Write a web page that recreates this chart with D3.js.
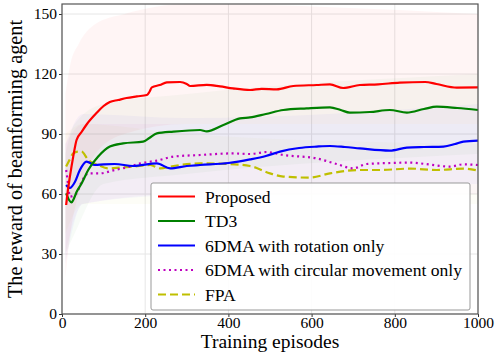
<!DOCTYPE html>
<html>
<head>
<meta charset="utf-8">
<script src="https://cdn.jsdelivr.net/npm/d3@7"></script>
<style>
body { margin: 0; background: #fff; }
svg text { font-family: "Liberation Serif", "DejaVu Serif", Times, serif !important; }
</style>
</head>
<body>
<script>
//smoothed reward curves, [episode, reward]
var proposed = [[10,54.5],[13,60],[19,68.7],[27,78.7],[35,87],[47,91],[60,95],[83,100.5],[100,104],[115,106],[135,107],[155,108],[180,108.8],[204,109.5],[210,111],[216,113.3],[235,114.5],[252,115.8],[284,116],[300,115],[308,114],[348,114.6],[380,113.8],[411,112.8],[452,112],[480,112.6],[516,112.3],[556,114],[612,114.5],[644,114.8],[676,113],[716,114.5],[760,114.8],[812,115.7],[873,116],[900,115],[949,113.2],[1000,113.3]];
var td3 = [[10,60.3],[17,57],[23,55.8],[27,57],[35,61],[47,65.3],[63,72],[87,78.7],[115,83.7],[147,85.3],[195,86.2],[210,88],[228,90.3],[268,91.2],[332,92],[348,91.3],[388,94.5],[428,97.8],[452,98.3],[490,100],[532,102],[588,102.8],[644,103.3],[670,102],[692,100.7],[740,101],[788,102],[829,100.7],[870,102.5],[901,103.7],[950,103],[1000,102]];
var rotation = [[10,64.5],[19,63],[31,66],[43,72],[59,76.2],[79,74.5],[100,74.8],[127,75],[171,74],[228,75.3],[260,72.8],[300,74],[332,74.5],[400,75.5],[452,77.3],[490,79],[524,81.2],[570,83],[612,83.7],[644,84],[680,83.5],[716,82.8],[788,81.7],[829,83.2],[870,83.5],[917,83.7],[945,85],[965,86.2],[1000,86.7]];
var circular = [[10,72],[14,66],[19,58.7],[35,60.3],[47,66],[63,70.3],[90,70.3],[127,72],[160,73.5],[188,75.3],[228,76.7],[268,78.7],[332,79.5],[412,80.3],[452,80],[492,81],[532,79.5],[612,77.8],[660,75],[700,72.8],[732,75],[790,75.5],[837,75.7],[874,75],[932,73.7],[964,74.8],[1000,74.5]];
var fpa = [[10,73.7],[18,77],[27,80.3],[39,81.2],[47,81.2],[63,77],[87,74.5],[111,72.8],[140,73.2],[171,73.7],[212,74.5],[236,72.8],[268,74],[332,75.3],[400,75],[452,74],[500,70.3],[532,68.7],[596,68.2],[644,70.3],[716,72],[764,72],[837,72.7],[901,72],[965,72.7],[1000,71.7]];

//spread of the raw episode rewards, [episode, low, high]
var proposedRaw = [[8,18,110],[20,40,125],[40,60,135],[80,80,145],[150,90,150],[300,95,155],[1000,95,150]];
var td3Raw = [[8,30,80],[30,40,95],[100,65,105],[300,70,110],[1000,80,120]];
var rotationRaw = [[8,25,85],[50,55,100],[300,60,98],[1000,65,105]];
var circularRaw = [[8,30,85],[50,55,95],[300,60,95],[1000,60,95]];
var fpaRaw = [[8,40,90],[50,55,95],[300,55,90],[1000,55,85]];

var seriesNames = ["Proposed", "TD3", "6DMA with rotation only", "6DMA with circular movement only", "FPA"];
var seriesData = [proposed, td3, rotation, circular, fpa];
var rawData = [proposedRaw, td3Raw, rotationRaw, circularRaw, fpaRaw];
var colors = ["#ff0000", "#008000", "#0000ff", "#bf00bf", "#bfbf00"];
var dashes = [null, null, null, "2,3.5", "8,4"];

var xTicks = [0, 200, 400, 600, 800, 1000];
var yTicks = [0, 30, 60, 90, 120, 150];

var width = 500, height = 354;
var margin = {left: 62, right: 22, top: 4, bottom: 40};
var innerW = width - margin.left - margin.right,
    innerH = height - margin.top - margin.bottom;

var svg = d3.select("body").append("svg")
    .attr("width", width)
    .attr("height", height);

var g = svg.append("g")
    .attr("transform", "translate(" + margin.left + "," + margin.top + ")");

var x = d3.scaleLinear().domain([0, 1000]).range([0, innerW]);
var y = d3.scaleLinear().domain([0, 155]).range([innerH, 0]);

//grid
g.selectAll(".ygrid").data(yTicks).enter().append("line")
    .attr("x1", 0).attr("x2", innerW)
    .attr("y1", function(d){ return y(d); }).attr("y2", function(d){ return y(d); })
    .attr("stroke", "#e6e6e6").attr("stroke-width", 1);
g.selectAll(".xgrid").data(xTicks).enter().append("line")
    .attr("y1", 0).attr("y2", innerH)
    .attr("x1", function(d){ return x(d); }).attr("x2", function(d){ return x(d); })
    .attr("stroke", "#e6e6e6").attr("stroke-width", 1);

//faint raw reward spread
var area = d3.area()
    .x(function(d){ return x(d[0]); })
    .y0(function(d){ return y(d[1]); })
    .y1(function(d){ return y(Math.min(d[2], 155)); })
    .curve(d3.curveMonotoneX);

rawData.forEach(function(r, i){
    g.append("path")
        .attr("d", area(r))
        .attr("fill", colors[i])
        .attr("fill-opacity", i == 0 ? 0.04 : 0.03);
});

//smoothed curves
var line = d3.line()
    .x(function(d){ return x(d[0]); })
    .y(function(d){ return y(d[1]); })
    .curve(d3.curveMonotoneX);

//draw in reverse so Proposed sits on top
for (var i = seriesData.length - 1; i >= 0; i--){
    g.append("path")
        .attr("d", line(seriesData[i]))
        .attr("fill", "none")
        .attr("stroke", colors[i])
        .attr("stroke-width", 2.2)
        .attr("stroke-dasharray", dashes[i]);
}

//axes
var xAxis = g.append("g")
    .attr("transform", "translate(0," + innerH + ")")
    .call(d3.axisBottom(x).tickValues(xTicks).tickFormat(d3.format("d")).tickSize(3).tickPadding(0));
var yAxis = g.append("g")
    .call(d3.axisLeft(y).tickValues(yTicks).tickFormat(d3.format("d")).tickSize(3).tickPadding(2));

[xAxis, yAxis].forEach(function(a){
    a.attr("font-family", null);
    a.select(".domain").remove();
    a.selectAll("line").attr("stroke", "#333");
    a.selectAll("text")
        .attr("font-size", 15.5)
        .attr("fill", "#000");
});

//frame
g.append("rect")
    .attr("width", innerW).attr("height", innerH)
    .attr("fill", "none").attr("stroke", "#555").attr("stroke-width", 1.2);

//axis titles
svg.append("text")
    .attr("x", margin.left + innerW / 2).attr("y", 348)
    .attr("text-anchor", "middle")
    .attr("font-size", 19.5)
    .text("Training episodes");

svg.append("text")
    .attr("transform", "translate(22," + (margin.top + innerH / 2) + ") rotate(-90)")
    .attr("text-anchor", "middle")
    .attr("font-size", 20.3)
    .text("The reward of beamforming agent");

//legend
var legend = svg.append("g").attr("transform", "translate(151,183)");
legend.append("rect")
    .attr("width", 319).attr("height", 127)
    .attr("rx", 2)
    .attr("fill", "#fff").attr("fill-opacity", 0.9)
    .attr("stroke", "#999").attr("stroke-width", 1);

var rows = legend.selectAll(".row").data(seriesNames).enter().append("g")
    .attr("transform", function(d, i){ return "translate(0," + (13.5 + i * 24.5) + ")"; });
rows.append("line")
    .attr("x1", 7).attr("x2", 44).attr("y1", 0).attr("y2", 0)
    .attr("stroke", function(d, i){ return colors[i]; })
    .attr("stroke-width", 2.2)
    .attr("stroke-dasharray", function(d, i){ return dashes[i]; });
rows.append("text")
    .attr("x", 54).attr("y", 6)
    .attr("font-size", 17.6)
    .text(function(d){ return d; });
</script>
</body>
</html>
